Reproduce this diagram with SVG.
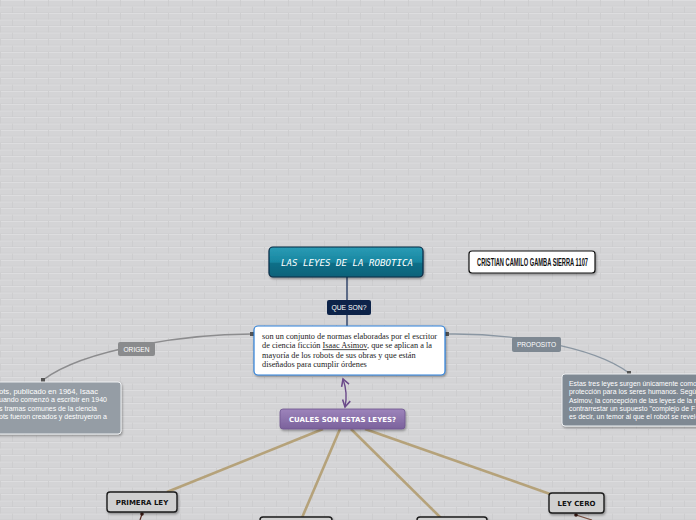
<svg xmlns="http://www.w3.org/2000/svg" width="696" height="520" viewBox="0 0 696 520">
<defs>
<pattern id="brick" width="48" height="13" patternUnits="userSpaceOnUse">
<rect width="48" height="13" fill="#d4d4d6"/>
<path d="M0,0.5H48M0,7H48" stroke="#dddddf" stroke-width="1"/>
<path d="M0,6H48M0,12.5H48" stroke="#cdcdcf" stroke-width="0.5"/>
<path d="M0.5,0V6.5M24.5,0V6.5M12.5,6.5V13M36.5,6.5V13" stroke="#cbcbcd" stroke-width="0.8"/>
</pattern>
<linearGradient id="teal" x1="0" y1="0" x2="0" y2="1">
<stop offset="0" stop-color="#2a9cb6"/>
<stop offset="0.5" stop-color="#1886a0"/>
<stop offset="0.55" stop-color="#0f6f88"/>
<stop offset="1" stop-color="#0c6279"/>
</linearGradient>
<linearGradient id="purple" x1="0" y1="0" x2="0" y2="1">
<stop offset="0" stop-color="#9d84bb"/>
<stop offset="1" stop-color="#7b629c"/>
</linearGradient>
<filter id="sh" x="-10%" y="-20%" width="130%" height="160%">
<feDropShadow dx="1" dy="1.5" stdDeviation="1.2" flood-color="#000" flood-opacity="0.35"/>
</filter>
<marker id="pa" viewBox="0 0 10 10" refX="8" refY="5" markerWidth="7" markerHeight="7" orient="auto-start-reverse">
<path d="M1,1L8,5L1,9" fill="none" stroke="#6b4a8a" stroke-width="1.6"/>
</marker>
<style>
.lbl{font-family:"Liberation Sans",Arial,sans-serif;fill:#fff}
.gtext{font-family:"Liberation Sans",Arial,sans-serif;font-size:6.9px;fill:#fff}
.ser{font-family:"Liberation Serif","Times New Roman",serif;font-size:8.3px;fill:#222}
.ley{fill:#d0d0d0;stroke:#1a1a1a;stroke-width:1.4}
.leyt{font-family:"DejaVu Sans",Verdana,sans-serif;font-size:7px;font-weight:bold;fill:#111;text-anchor:middle}
.tan{stroke:#b5a27a;stroke-width:2.6;fill:none}
.dot{fill:#555}
</style>
</defs>
<rect width="696" height="520" fill="url(#brick)"/>

<g id="connectors">
<path d="M347,277V326" stroke="#34476b" stroke-width="1.5" fill="none"/>
<path d="M252,334 C190,334 85,348 43,380" stroke="#8c8c8e" stroke-width="1.4" fill="none"/>
<path d="M447,334 C505,333 592,345 629,373" stroke="#8a96a2" stroke-width="1.4" fill="none"/>
<rect class="dot" x="250" y="332" width="4" height="4"/>
<rect class="dot" x="445" y="332" width="4" height="4"/>
<rect class="dot" x="41" y="378" width="4" height="4"/>
<rect class="dot" x="627" y="371" width="4" height="4"/>
<path d="M343,379 Q348,393 345,407" stroke="#6b4a8a" stroke-width="1.4" fill="none" marker-start="url(#pa)" marker-end="url(#pa)"/>
<path class="tan" d="M323,429L167,492"/>
<path class="tan" d="M340,429L301,520"/>
<path class="tan" d="M351,429L443,520"/>
<path class="tan" d="M365,429L550,494"/>
<path d="M142,514L140,520" stroke="#5a2a20" stroke-width="1.2"/>
<circle cx="142" cy="514" r="1.8" fill="#3a1a14"/>
<path d="M576,515L592,520" stroke="#7a5040" stroke-width="1.2"/>
<circle cx="576" cy="515" r="1.8" fill="#3a1a14"/>
</g>

<g id="title">
<rect x="269" y="247" width="154" height="30" rx="4" fill="url(#teal)" stroke="#0b2a44" stroke-width="1.2" filter="url(#sh)"/>
<text x="347" y="266" font-family="'DejaVu Sans Mono',monospace" font-size="9.5" font-style="italic" fill="#fff" text-anchor="middle" textLength="132" lengthAdjust="spacingAndGlyphs">LAS LEYES DE LA ROBOTICA</text>
</g>

<g id="author">
<rect x="469" y="251" width="126" height="22" rx="3" fill="#fff" stroke="#111" stroke-width="1.2" filter="url(#sh)"/>
<text x="532.5" y="266" font-family="'Liberation Sans',Arial,sans-serif" font-size="10.5" font-weight="bold" fill="#111" text-anchor="middle" textLength="111" lengthAdjust="spacingAndGlyphs">CRISTIAN CAMILO GAMBA SIERRA 1107</text>
</g>

<g id="queson">
<rect x="327" y="300" width="44" height="15" rx="2" fill="#0d2349"/>
<text class="lbl" x="349" y="310" font-size="6.8" text-anchor="middle">QUE SON?</text>
</g>

<g id="definicion">
<rect x="254" y="326" width="191" height="49" rx="4" fill="#fff" stroke="#2d7fd6" stroke-width="1.2" filter="url(#sh)"/>
<text class="ser" x="262" y="339">son un conjunto de normas elaboradas por el escritor</text>
<text class="ser" x="262" y="348.3">de ciencia ficción <tspan text-decoration="underline">Isaac Asimov</tspan>, que se aplican a la</text>
<text class="ser" x="262" y="357.6">mayoría de los robots de sus obras y que están</text>
<text class="ser" x="262" y="366.9">diseñados para cumplir órdenes</text>
</g>

<g id="origen">
<rect x="118" y="342" width="37" height="14" rx="2" fill="#8a8b8d"/>
<text class="lbl" x="136.5" y="351.5" font-size="6.6" text-anchor="middle">ORIGEN</text>
</g>

<g id="proposito">
<rect x="512" y="337" width="49" height="15" rx="2" fill="#7e8892"/>
<text class="lbl" x="536.5" y="347" font-size="6.6" text-anchor="middle">PROPOSITO</text>
</g>

<g id="origen-texto">
<rect x="-10" y="382" width="131" height="52" rx="3" fill="#959da5" stroke="#eef0f2" stroke-width="1" filter="url(#sh)"/>
<text class="gtext" x="-1" y="394" textLength="99" lengthAdjust="spacingAndGlyphs">ots, publicado en 1964, Isaac</text>
<text class="gtext" x="-1" y="402.3" textLength="108" lengthAdjust="spacingAndGlyphs">uando comenzó a escribir en 1940</text>
<text class="gtext" x="-1" y="410.6" textLength="98" lengthAdjust="spacingAndGlyphs">s tramas comunes de la ciencia</text>
<text class="gtext" x="-1" y="418.9" textLength="108" lengthAdjust="spacingAndGlyphs">ots fueron creados y destruyeron a</text>
</g>

<g id="proposito-texto">
<rect x="562" y="374" width="150" height="52" rx="3" fill="#7f8993" stroke="#eef0f2" stroke-width="1" filter="url(#sh)"/>
<text class="gtext" x="569" y="386">Estas tres leyes surgen únicamente como</text>
<text class="gtext" x="569" y="394.3">protección para los seres humanos. Segú</text>
<text class="gtext" x="569" y="402.6">Asimov, la concepción de las leyes de la ro</text>
<text class="gtext" x="569" y="410.9">contrarrestar un supuesto "complejo de F</text>
<text class="gtext" x="569" y="419.2">es decir, un temor al que el robot se revele</text>
</g>

<g id="cuales">
<rect x="280" y="409" width="125" height="20" rx="3" fill="url(#purple)" stroke="#6e5790" stroke-width="0.8" filter="url(#sh)"/>
<text x="342.5" y="422" font-family="'DejaVu Sans',Verdana,sans-serif" font-size="7" font-weight="bold" fill="#fff" text-anchor="middle">CUALES SON ESTAS LEYES?</text>
</g>

<g id="primera">
<rect class="ley" x="107" y="492" width="70" height="20" rx="3" filter="url(#sh)"/>
<text class="leyt" x="142" y="505">PRIMERA LEY</text>
</g>

<g id="segunda">
<rect class="ley" x="260" y="517" width="72" height="20" rx="3" filter="url(#sh)"/>
</g>

<g id="tercera">
<rect class="ley" x="417" y="517" width="70" height="20" rx="3" filter="url(#sh)"/>
</g>

<g id="cero">
<rect class="ley" x="549" y="493" width="55" height="20" rx="3" filter="url(#sh)"/>
<text class="leyt" x="576.5" y="506">LEY CERO</text>
</g>
</svg>
